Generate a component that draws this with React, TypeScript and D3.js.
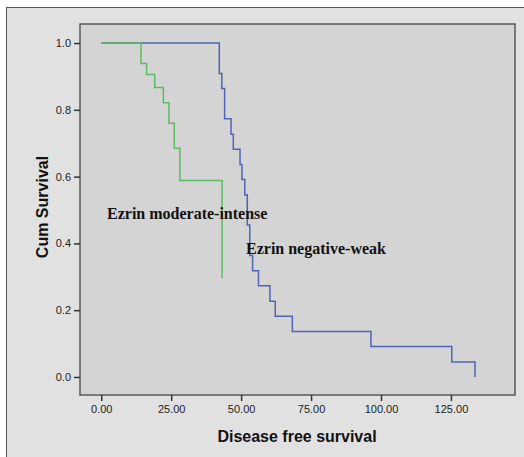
import React, { useEffect, useRef } from 'react';
import * as d3 from 'd3';

// Kaplan-Meier steps
const weakTimes = [0, 42.2, 43.1, 44.1, 46.4, 47.2, 49.6, 50.3, 51.3, 52.2, 53.1, 54.1, 56.2, 60.3, 62.2, 68.3, 96.4, 125.3, 133.6];
const weakSurv = [1, 0.909, 0.864, 0.773, 0.727, 0.682, 0.636, 0.591, 0.545, 0.455, 0.364, 0.318, 0.273, 0.227, 0.182, 0.136, 0.091, 0.045, 0.0];

const intenseTimes = [0, 14.2, 16.2, 19.1, 22.2, 24.2, 26.1, 28.1, 43.2];
const intenseSurv = [1, 0.939, 0.906, 0.867, 0.821, 0.76, 0.685, 0.588, 0.296];

const xTicks = [0, 25, 50, 75, 100, 125];
const yTicks = [0, 0.2, 0.4, 0.6, 0.8, 1.0];

const labelIntense = 'Ezrin moderate-intense';
const labelWeak = 'Ezrin negative-weak';
const xTitle = 'Disease free survival';
const yTitle = 'Cum Survival';

function SurvivalChart() {
  const ref = useRef<SVGSVGElement | null>(null);

  useEffect(() => {
    const svg = d3.select(ref.current);
    svg.selectAll('*').remove();

    const W = 524, H = 457;
    const plot = { left: 80, top: 24, right: 515, bottom: 395 };

    // outer frame
    svg.append('rect')
      .attr('x', 6.5).attr('y', 7.5)
      .attr('width', W).attr('height', H)
      .attr('fill', '#e1e1e1')
      .attr('stroke', '#555')
      .attr('stroke-width', 1);

    svg.append('rect')
      .attr('x', plot.left).attr('y', plot.top)
      .attr('width', plot.right - plot.left)
      .attr('height', plot.bottom - plot.top)
      .attr('fill', '#d4d4d4')
      .attr('stroke', '#5a5a5a')
      .attr('stroke-width', 1.5);

    const x = d3.scaleLinear().domain([-7.6, 147.9]).range([plot.left, plot.right]);
    const y = d3.scaleLinear().domain([-0.054, 1.057]).range([plot.bottom, plot.top]);

    const font = '"Liberation Sans", Arial, sans-serif';
    const serif = '"Liberation Serif", "Times New Roman", serif';

    const xAxis = svg.append('g')
      .attr('transform', `translate(0,${plot.bottom})`)
      .call(d3.axisBottom(x).tickValues(xTicks).tickFormat(d3.format('.2f')).tickSizeOuter(0).tickSize(6).tickPadding(4));
    xAxis.select('.domain').remove();

    const yAxis = svg.append('g')
      .attr('transform', `translate(${plot.left},0)`)
      .call(d3.axisLeft(y).tickValues(yTicks).tickFormat(d3.format('.1f')).tickSizeOuter(0).tickSize(6).tickPadding(3));
    yAxis.select('.domain').remove();

    [xAxis, yAxis].forEach(g => {
      g.selectAll('line').attr('stroke', '#333').attr('stroke-width', 1.5);
      g.selectAll('text').attr('fill', '#222').style('font-family', font).style('font-size', '11px');
    });

    const line = d3.line<[number, number]>()
      .x(d => x(d[0]))
      .y(d => y(d[1]))
      .curve(d3.curveStepAfter);

    const weak = weakTimes.map((t, i) => [t, weakSurv[i]] as [number, number]);
    const intense = intenseTimes.map((t, i) => [t, intenseSurv[i]] as [number, number]);

    svg.append('path')
      .datum(weak)
      .attr('fill', 'none')
      .attr('stroke', '#5064b4')
      .attr('stroke-width', 1.5)
      .attr('d', line);

    svg.append('path')
      .datum(intense)
      .attr('fill', 'none')
      .attr('stroke', '#5cbc64')
      .attr('stroke-width', 1.5)
      .attr('d', line);

    svg.append('text')
      .attr('x', 107).attr('y', 219)
      .style('font-family', serif)
      .style('font-weight', 'bold')
      .style('font-size', '16px')
      .attr('fill', '#111')
      .text(labelIntense);

    svg.append('text')
      .attr('x', 246).attr('y', 254)
      .style('font-family', serif)
      .style('font-weight', 'bold')
      .style('font-size', '16px')
      .attr('fill', '#111')
      .text(labelWeak);

    svg.append('text')
      .attr('x', 297).attr('y', 442)
      .attr('text-anchor', 'middle')
      .style('font-family', font)
      .style('font-weight', 'bold')
      .style('font-size', '16px')
      .attr('fill', '#111')
      .text(xTitle);

    svg.append('text')
      .attr('transform', 'translate(48,207) rotate(-90)')
      .attr('text-anchor', 'middle')
      .style('font-family', font)
      .style('font-weight', 'bold')
      .style('font-size', '16px')
      .attr('fill', '#111')
      .text(yTitle);
  }, []);

  return (
    <svg ref={ref} width={524} height={457}
      style={{ position: 'absolute', left: 0, top: 0, display: 'block' }} />
  );
}

export default function App() {
  return <SurvivalChart />;
}
